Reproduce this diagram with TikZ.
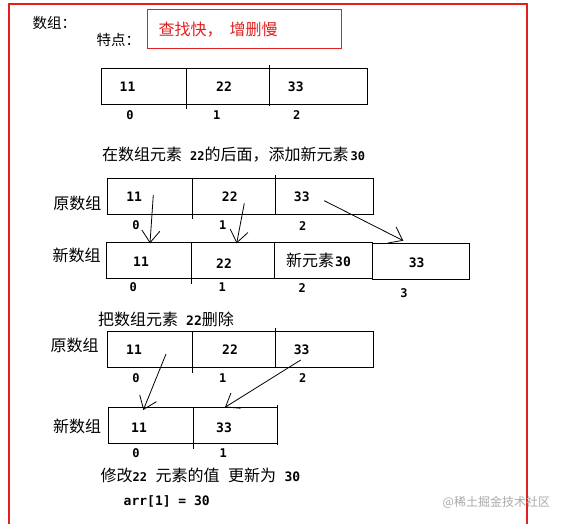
\documentclass[tikz,border=0pt]{standalone}
\usepackage{fontspec}
\newfontfamily\cjk{Noto Sans CJK SC}
\newfontfamily\numf{DejaVu Sans Mono}
\usetikzlibrary{arrows.meta}
\definecolor{framered}{RGB}{225,32,32}
\definecolor{wmgray}{RGB}{170,170,170}
\newcommand{\nb}[2][12]{{\numf\bfseries\fontsize{#1}{14}\selectfont #2}}
\tikzset{
  cell/.style={draw=black, line width=0.9pt},
  val/.style={font=\numf\bfseries\fontsize{13}{15}\selectfont, inner sep=0pt},
  idx/.style={font=\numf\bfseries\fontsize{12}{14}\selectfont, inner sep=0pt},
  lab/.style={font=\cjk\fontsize{16}{18}\selectfont, inner sep=0pt},
  txt/.style={lab, anchor=west},
  arr/.style={line width=0.8pt, -{Straight Barb[length=12pt,width=18pt,line width=0.8pt]}},
}
\begin{document}
\begin{tikzpicture}[x=1pt,y=-1pt]
\useasboundingbox (0,0) rectangle (562,523);
\fill[white] (0,0) rectangle (562,523);
% outer frame
\draw[framered, line width=2.2pt] (9,530) -- (9,4) -- (527,4) -- (527,530);
% header
\node[lab, font=\cjk\fontsize{14.5}{17}\selectfont, anchor=west] (title) at (32.5,23.3) {数组：};
\node[lab, font=\cjk\fontsize{14.5}{17}\selectfont, anchor=west] (feat) at (96.5,40) {特点：};
\node[draw=framered, line width=0.9pt, minimum width=194.4pt, minimum height=39pt, inner sep=0pt] (featbox) at (244.5,28.8) {};
\node[lab, font=\cjk\fontsize{16}{18}\selectfont, text=framered, anchor=west] (feattxt) at (158.5,30) {查找快，\hspace{7pt}增删慢};

% array 1
\draw[cell] (101,68.3) rectangle (367.7,104.3);
\draw[cell] (186,68.3) -- (186,109);
\draw[cell] (269.3,65) -- (269.3,106);
\node[val] (a1v0) at (127.5,86.7) {11};
\node[val] (a1v1) at (224,86.7) {22};
\node[val] (a1v2) at (295.8,86.7) {33};
\node[idx] (a1i0) at (130,115) {0};
\node[idx] (a1i1) at (216.7,115) {1};
\node[idx] (a1i2) at (296.7,115) {2};

% insertion
\node[txt] (ins) at (102,155) {在数组元素\hspace{8pt}\nb{22}的后面，添加新元素\hspace{2pt}\nb{30}};
\node[lab] (orig1) at (77.3,203.3) {原数组};
\draw[cell] (107.3,178.3) rectangle (373.3,214.3);
\draw[cell] (192.3,178.3) -- (192.3,219);
\draw[cell] (275.7,175) -- (275.7,214.3);
\node[val] (a2v0) at (134.2,196.7) {11};
\node[val] (a2v1) at (229.8,196.7) {22};
\node[val] (a2v2) at (301.8,196.7) {33};
\node[idx] (a2i0) at (136,225) {0};
\node[idx] (a2i1) at (222.7,225) {1};
\node[idx] (a2i2) at (302.7,226) {2};

\node[lab] (new1) at (76.7,255) {新数组};
\draw[cell] (106,242) rectangle (372,278.3);
\draw[cell] (191.7,242) -- (191.7,284);
\draw[cell] (274.7,242) -- (274.7,278.3);
\draw[cell] (372,243.3) rectangle (469.3,279.3);
\node[val] (a3v0) at (141,261.7) {11};
\node[val] (a3v1) at (224,263.3) {22};
\node[lab, anchor=west] (a3v2) at (286,260) {新元素\hspace{1pt}\nb[13]{30}};
\node[val] (a3v3) at (416.7,262.7) {33};
\node[idx] (a3i0) at (133.3,287.3) {0};
\node[idx] (a3i1) at (222.3,287.3) {1};
\node[idx] (a3i2) at (302.3,288.3) {2};
\node[idx] (a3i3) at (404,293.3) {3};

\coordinate (p1s) at (153.3,195);
\coordinate (p1e) at (150,243.3);
\coordinate (p2s) at (244.3,203.3);
\coordinate (p2e) at (236.7,243.3);
\coordinate (p3s) at (324.3,200.7);
\coordinate (p3e) at (403.3,240.7);
\draw[arr] (p1s) -- (p1e);
\draw[arr] (p2s) -- (p2e);
\draw[arr] (p3s) -- (p3e);

% deletion
\node[txt] (del) at (98,319.3) {把数组元素\hspace{8pt}\nb[13]{22}删除};
\node[lab] (orig2) at (74.5,345.7) {原数组};
\draw[cell] (107.3,331.7) rectangle (373.3,367.3);
\draw[cell] (192.3,331.7) -- (192.3,372.7);
\draw[cell] (275.7,328.3) -- (275.7,367.3);
\node[val] (a4v0) at (134,349.3) {11};
\node[val] (a4v1) at (230,349.3) {22};
\node[val] (a4v2) at (301.7,349.3) {33};
\node[idx] (a4i0) at (136,378.3) {0};
\node[idx] (a4i1) at (222.7,378.3) {1};
\node[idx] (a4i2) at (302.7,378.3) {2};

\node[lab] (new2) at (77.2,426.7) {新数组};
\draw[cell] (108.3,407.3) -- (277.3,407.3);
\draw[cell] (108.3,407.3) -- (108.3,443.3) -- (277.3,443.3);
\draw[cell] (277.3,405.3) -- (277.3,445.3);
\draw[cell] (193.3,407.3) -- (193.3,449);
\node[val] (a5v0) at (139,427.7) {11};
\node[val] (a5v1) at (224,427.3) {33};
\node[idx] (a5i0) at (136,453.3) {0};
\node[idx] (a5i1) at (223.3,453.3) {1};

\coordinate (q1s) at (166,354);
\coordinate (q1e) at (143.3,410);
\coordinate (q2s) at (300.7,360);
\coordinate (q2e) at (225,407.3);
\draw[arr] (q1s) -- (q1e);
\draw[arr] (q2s) -- (q2e);

% update
\node[txt] (upd) at (100.5,475) {修改\nb{22}\hspace{8.5pt}元素的值\hspace{8.5pt}更新为\hspace{8.5pt}\nb[13]{30}};
\node[val, anchor=west] (code) at (123.5,501.7) {arr[1] = 30};

% watermark
\node[lab, font=\cjk\fontsize{12}{14}\selectfont, text=wmgray, anchor=west] (wm) at (442.5,502.3) {@稀土掘金技术社区};
\end{tikzpicture}
\end{document}
